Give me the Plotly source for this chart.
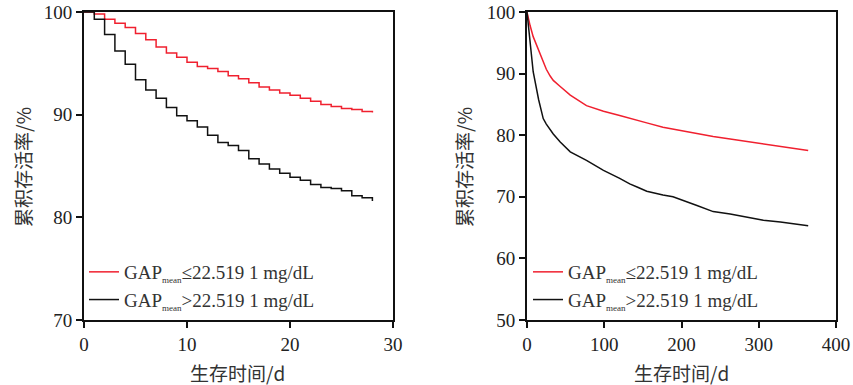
import plotly.graph_objects as go

# ---- Left panel (28 days), step data ----
days_28 = list(range(0, 29))
low_28 = [100, 99.8, 99.3, 98.9, 98.5, 97.9, 97.3, 96.6, 96.0, 95.6, 95.1, 94.7, 94.5, 94.2, 93.8,
          93.5, 93.1, 92.7, 92.4, 92.1, 91.9, 91.6, 91.3, 91.0, 90.8, 90.6, 90.5, 90.3, 90.2]
high_28 = [100, 99.3, 97.8, 96.2, 94.9, 93.4, 92.4, 91.6, 90.7, 89.9, 89.4, 88.8, 88.0, 87.3, 87.0,
           86.5, 85.7, 85.2, 84.7, 84.3, 83.9, 83.6, 83.2, 82.9, 82.8, 82.6, 82.1, 81.9, 81.6]

# ---- Right panel (365 days) ----
days_365 = [0, 2, 4, 8, 15, 21, 25, 30, 34, 43, 56, 77, 99, 120, 133, 144, 155, 176, 189,
            220, 241, 263, 284, 306, 328, 364]
low_365 = [100, 98.8, 97.8, 96.0, 93.9, 92.0, 90.7, 89.6, 88.9, 87.9, 86.5, 84.8, 83.9, 83.2, 82.8,
           82.4, 82.0, 81.3, 81.0, 80.2, 79.8, 79.4, 79.0, 78.6, 78.1, 77.5]
high_365 = [100, 97.6, 94.6, 90.3, 85.8, 82.7, 81.8, 80.8, 80.2, 78.9, 77.3, 75.9, 74.3, 73.0, 72.1,
            71.5, 70.9, 70.3, 70.0, 68.6, 67.6, 67.2, 66.7, 66.2, 65.9, 65.3]

name_low = "GAP<sub><span style='font-size:9px'>mean</span></sub>≤22.519 1 mg/dL"
name_high = "GAP<sub><span style='font-size:9px'>mean</span></sub>&gt;22.519 1 mg/dL"

RED = "#f0202f"
BLACK = "#111111"
W, H = 853, 385


def px(v):
    return v / W


def py(v):
    return 1 - v / H


fig = go.Figure()
fig.add_trace(go.Scatter(x=days_28, y=low_28, mode="lines", line=dict(color=RED, width=1.5, shape="hv"),
                         name=name_low, xaxis="x", yaxis="y", legend="legend"))
fig.add_trace(go.Scatter(x=days_28, y=high_28, mode="lines", line=dict(color=BLACK, width=1.5, shape="hv"),
                         name=name_high, xaxis="x", yaxis="y", legend="legend"))
fig.add_trace(go.Scatter(x=days_365, y=low_365, mode="lines", line=dict(color=RED, width=1.5),
                         name=name_low, xaxis="x2", yaxis="y2", legend="legend2"))
fig.add_trace(go.Scatter(x=days_365, y=high_365, mode="lines", line=dict(color=BLACK, width=1.5),
                         name=name_high, xaxis="x2", yaxis="y2", legend="legend2"))

tickfont = dict(family="Liberation Serif", size=19, color="#222")
ax_common = dict(showline=True, linewidth=2, linecolor="#111", mirror=True, ticks="outside",
                 ticklen=6, tickwidth=2, tickcolor="#111", showgrid=False, zeroline=False,
                 tickfont=tickfont, automargin=False)

ydom = [py(320), py(12)]
legfont = dict(family="Liberation Serif", size=19, color="#333")
fig.update_layout(
    width=W, height=H, margin=dict(l=0, r=0, t=0, b=0, autoexpand=False),
    paper_bgcolor="white", plot_bgcolor="white",
    xaxis=dict(domain=[px(84), px(393)], range=[0, 30], dtick=10, anchor="y", **ax_common),
    yaxis=dict(domain=ydom, range=[70, 100], dtick=10, anchor="x", **ax_common),
    xaxis2=dict(domain=[px(527), px(836)], range=[0, 400], dtick=100, anchor="y2", **ax_common),
    yaxis2=dict(domain=ydom, range=[50, 100], dtick=10, anchor="x2", **ax_common),
    legend=dict(x=px(84), y=py(253), xanchor="left", yanchor="top", bgcolor="rgba(0,0,0,0)",
                font=legfont, itemwidth=30, tracegroupgap=0),
    legend2=dict(x=px(528), y=py(253), xanchor="left", yanchor="top", bgcolor="rgba(0,0,0,0)",
                 font=legfont, itemwidth=30, tracegroupgap=0),
    showlegend=True,
)

title_font = dict(family="Noto Sans CJK SC", size=19, color="#333")
for xc in [237, 681]:
    fig.add_annotation(text="生存时间/d", x=px(xc), y=py(372), xref="paper", yref="paper",
                       xanchor="center", yanchor="middle", showarrow=False, font=title_font)
for xc in [22, 463]:
    fig.add_annotation(text="累积存活率/%", x=px(xc), y=py(167), xref="paper", yref="paper",
                       xanchor="center", yanchor="middle", showarrow=False, textangle=-90, font=title_font)

fig.write_html("out.html", config={"displayModeBar": False},
               post_script="document.body.style.margin='0';")
